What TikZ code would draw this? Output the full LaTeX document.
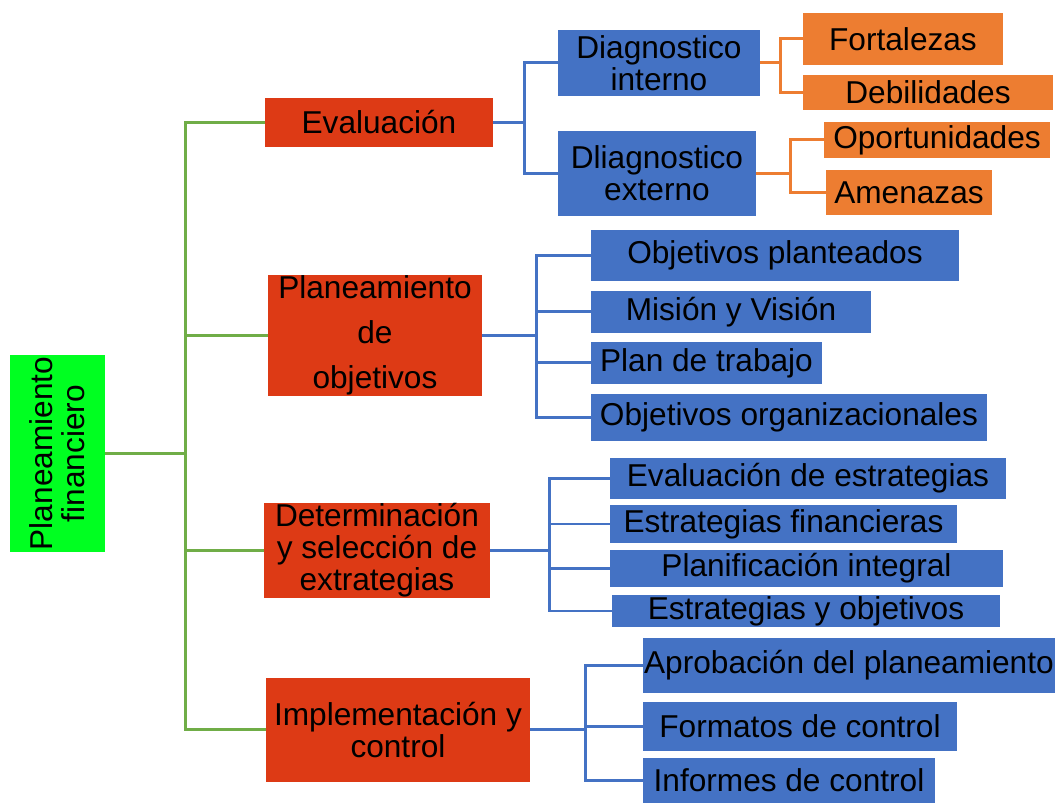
\documentclass[tikz,border=0pt]{standalone}
\usepackage{fontspec}
\setmainfont{Liberation Sans}
\definecolor{rootgreen}{HTML}{00FF21}
\definecolor{linegreen}{HTML}{70AD47}
\definecolor{boxred}{HTML}{DD3A15}
\definecolor{boxblue}{HTML}{4472C4}
\definecolor{boxorange}{HTML}{ED7D31}

\begin{document}
\begin{tikzpicture}[x=0.02cm, y=-0.02cm, inner sep=0, outer sep=0,
    every node/.style={align=center, font=\fontsize{18}{18.2}\selectfont},
    redbox/.style={rectangle, fill=boxred, anchor=north west},
    bluebox/.style={rectangle, fill=boxblue, anchor=north west},
    orangebox/.style={rectangle, fill=boxorange, anchor=north west},
    greenline/.style={draw=linegreen, line width=1.7pt},
    blueline/.style={draw=boxblue, line width=1.7pt},
    orangeline/.style={draw=boxorange, line width=1.7pt}]
  \useasboundingbox (0,0) rectangle (1055,803);

  % root, rotated: its south side faces right
  \node[rectangle, fill=rootgreen,
    rotate=90,
    minimum width = 3.94cm,
    minimum height = 1.90cm] (root) at (57.5,453.5) {Planeamiento\\financiero};

  \node[redbox, minimum width=4.56cm, minimum height=0.98cm] (eval) at (265,98) {Evaluación};
  \node[redbox, minimum width=4.28cm, minimum height=2.42cm,
    font=\fontsize{18}{25.6}\selectfont] (plan) at (268,275) {Planeamiento\\de\\objetivos};
  \node[redbox, minimum width=4.52cm, minimum height=1.90cm] (dete) at (264,503) {Determinación\\y selección de\\extrategias};
  \node[redbox, minimum width=5.28cm, minimum height=2.08cm] (impl) at (266,678) {Implementación y\\control};

  \coordinate (trunk) at ([xshift=1.62cm]root.south);
  \draw[greenline] (root.south) -- (trunk) |- (eval.west);
  \draw[greenline] (trunk) |- (plan.west);
  \draw[greenline] (trunk) |- (dete.west);
  \draw[greenline] (trunk) |- (impl.west);

  % evaluacion
  \node[bluebox, minimum width=4.04cm, minimum height=1.32cm] (dint) at (558,30) {Diagnostico\\interno};
  \node[bluebox, minimum width=3.96cm, minimum height=1.70cm] (dext) at (558,131) {Dliagnostico\\externo};
  \coordinate (jeval) at ([xshift=0.64cm]eval.east);
  \draw[blueline] (eval.east) -- (jeval) |- (dint.west);
  \draw[blueline] (jeval) |- (dext.west);

  \node[orangebox, minimum width=4.00cm, minimum height=1.04cm] (fort) at (803,13) {Fortalezas};
  \node[orangebox, minimum width=5.00cm, minimum height=0.70cm] (debi) at (803,75) {Debilidades};
  \node[orangebox, minimum width=4.52cm, minimum height=0.72cm] (opor) at (824,122) {Oportunidades};
  \node[orangebox, minimum width=3.32cm, minimum height=0.90cm] (amen) at (826,170) {Amenazas};
  \coordinate (jdint) at ([xshift=0.42cm]dint.east);
  \coordinate (jdext) at ([xshift=0.70cm]dext.east);
  \draw[orangeline] (dint.east) -- (jdint) |- (fort.west);
  \draw[orangeline] (jdint) |- (debi.west);
  \draw[orangeline] (dext.east) -- (jdext) |- (opor.west);
  \draw[orangeline] (jdext) |- (amen.west);

  % planeamiento de objetivos
  \node[bluebox, minimum width=7.36cm, minimum height=1.02cm] (obpl) at (591,230) {Objetivos planteados};
  \node[bluebox, minimum width=5.60cm, minimum height=0.84cm] (mivi) at (591,291) {Misión y Visión};
  \node[bluebox, minimum width=4.62cm, minimum height=0.84cm] (pltr) at (591,342) {Plan de trabajo};
  \node[bluebox, minimum width=7.92cm, minimum height=0.94cm] (obor) at (591,394) {Objetivos organizacionales};
  \coordinate (jplan) at ([xshift=1.10cm]plan.east);
  \draw[blueline] (plan.east) -- (jplan) |- (obpl.west);
  \draw[blueline] (jplan) |- (mivi.west);
  \draw[blueline] (jplan) |- (pltr.west);
  \draw[blueline] (jplan) |- (obor.west);

  % determinacion
  \node[bluebox, minimum width=7.92cm, minimum height=0.82cm] (eves) at (610,458) {Evaluación de estrategias};
  \node[bluebox, minimum width=6.94cm, minimum height=0.76cm] (esfi) at (610,505) {Estrategias financieras};
  \node[bluebox, minimum width=7.86cm, minimum height=0.74cm] (plin) at (610,550) {Planificación integral};
  \node[bluebox, minimum width=7.76cm, minimum height=0.64cm] (esob) at (612,595) {Estrategias y objetivos};
  \coordinate (jdete) at ([xshift=1.20cm]dete.east);
  \draw[blueline] (dete.east) -- (jdete) |- (eves.west);
  \draw[blueline] (jdete) |- (esfi.west);
  \draw[blueline] (jdete) |- (plin.west);
  \draw[blueline] (jdete) |- (esob.west);

  % implementacion
  \node[bluebox, minimum width=8.24cm, minimum height=1.10cm] (apro) at (643,638) {Aprobación del planeamiento};
  \node[bluebox, minimum width=6.28cm, minimum height=0.98cm] (foco) at (643,702) {Formatos de control};
  \node[bluebox, minimum width=5.84cm, minimum height=0.90cm] (inco) at (643,758) {Informes de control};
  \coordinate (jimpl) at ([xshift=1.12cm]impl.east);
  \draw[blueline] (impl.east) -- (jimpl) |- (apro.west);
  \draw[blueline] (jimpl) |- (foco.west);
  \draw[blueline] (jimpl) |- (inco.west);
\end{tikzpicture}
\end{document}
